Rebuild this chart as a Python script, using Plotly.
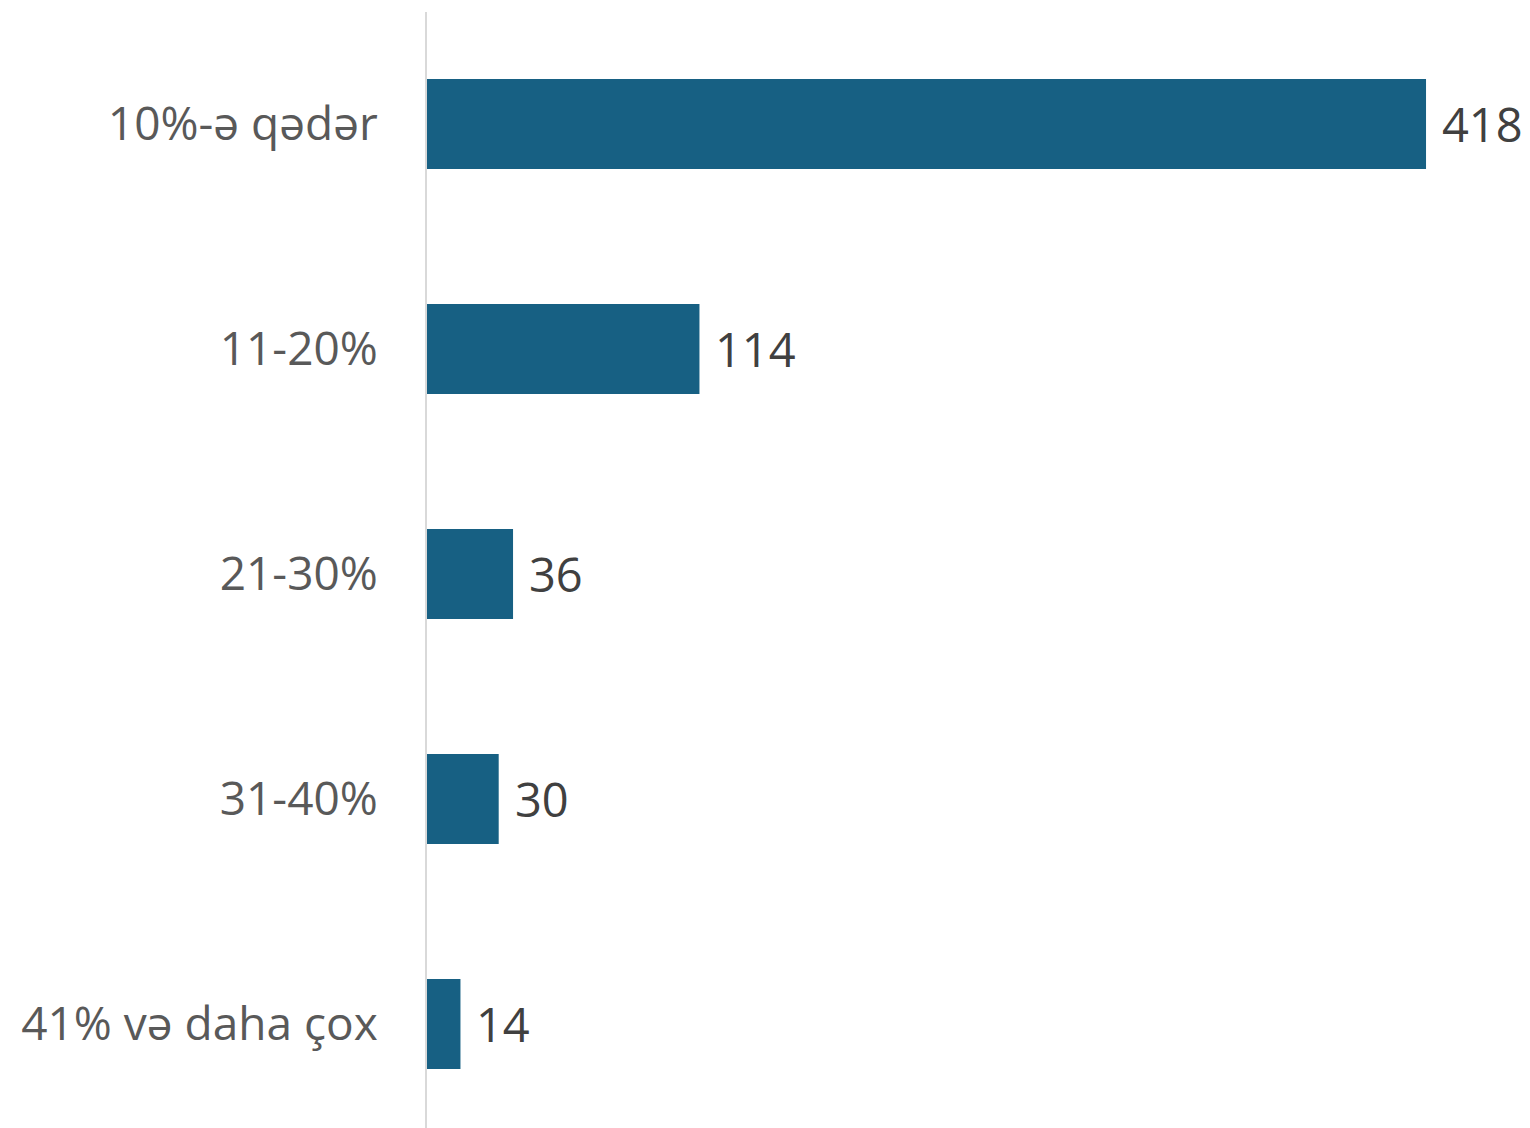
import plotly.graph_objects as go

categories = ["10%-ə qədər", "11-20%", "21-30%", "31-40%", "41% və daha çox"]
values = [418, 114, 36, 30, 14]

fig = go.Figure(go.Bar(
    x=values, y=categories, orientation="h",
    marker=dict(color="#176083", line=dict(width=0)),
    cliponaxis=False,
))

for c, v in zip(categories, values):
    fig.add_annotation(
        x=v, y=c, text=str(v), showarrow=False,
        xanchor="left", yanchor="middle", xshift=14,
        font=dict(family="Open Sans", size=47, color="#404040"),
    )

fig.update_layout(
    width=1522, height=1120,
    margin=dict(l=419, r=0, t=4, b=0),
    paper_bgcolor="white", plot_bgcolor="white",
    bargap=0.6, showlegend=False,
    font=dict(family="Open Sans"),
)
fig.update_xaxes(range=[0, 461.5], visible=False)
fig.update_yaxes(
    range=[4.462, -0.498], autorange=False,
    showline=True, linecolor="#D9D9D9", linewidth=2,
    showgrid=False, ticks="", ticklabelstandoff=38,
    tickfont=dict(family="Open Sans", size=46, color="#595959"),
)
fig.write_html("out.html")
